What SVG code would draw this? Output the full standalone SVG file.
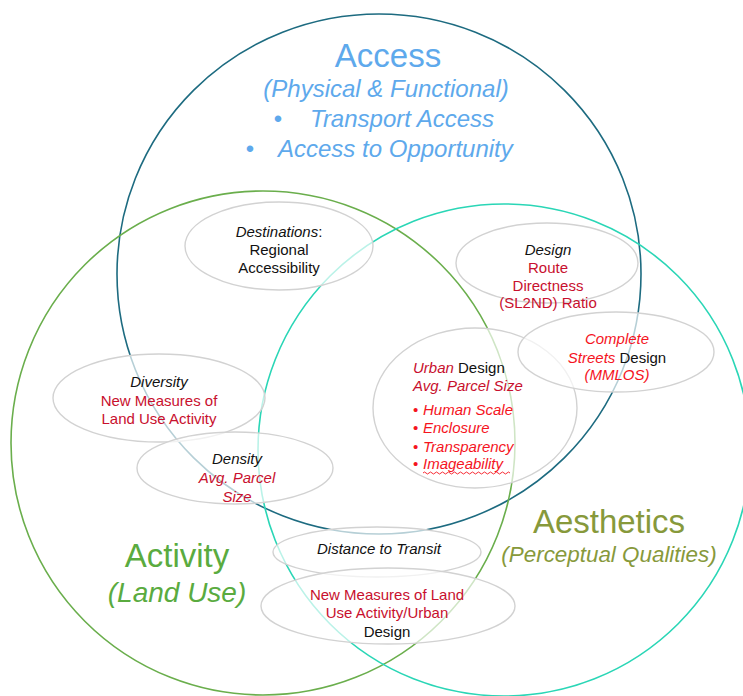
<svg xmlns="http://www.w3.org/2000/svg" width="743" height="696" viewBox="0 0 743 696">
<style>
.circ{fill:none;stroke-width:1.6}
.ell{fill:#fff;fill-opacity:0.68;stroke:#d2d2d2;stroke-width:1.4}
text{font-family:"Liberation Sans",Arial,sans-serif}
.s{font-size:15px;text-anchor:middle}
.i{font-style:italic}
.k{fill:#111}
.dr{fill:#c8102e}
.br{fill:#f5141e}
.blue{fill:#5ea9ec}
.grn{fill:#5aab3f}
.olv{fill:#87993b}
</style>
<rect width="743" height="696" fill="#fff"/>
<g id="access-circle"><ellipse class="circ" cx="379" cy="274" rx="262" ry="260" stroke="#1d6b80"/></g>
<g id="activity-circle"><circle class="circ" cx="263" cy="443" r="252" stroke="#6aae4c"/></g>
<g id="aesthetics-circle"><circle class="circ" cx="504" cy="450" r="246" stroke="#2ad6b6"/></g>
<g id="connectors"></g>

<g id="access-title">
<text x="388" y="67" text-anchor="middle" font-size="33" class="blue">Access</text>
<text x="386" y="97" text-anchor="middle" font-size="24" class="blue i">(Physical &amp; Functional)</text>
<text x="278" y="127" text-anchor="middle" font-size="24" class="blue">•</text>
<text x="310" y="127" font-size="24" class="blue i">Transport Access</text>
<text x="250" y="157" text-anchor="middle" font-size="24" class="blue">•</text>
<text x="278" y="157" font-size="24" class="blue i">Access to Opportunity</text>
</g>

<g id="activity-title">
<text x="177" y="567" text-anchor="middle" font-size="33" class="grn">Activity</text>
<text x="177" y="602" text-anchor="middle" font-size="28" class="grn i">(Land Use)</text>
</g>

<g id="aesthetics-title">
<text x="609" y="533" text-anchor="middle" font-size="33" class="olv">Aesthetics</text>
<text x="609" y="562" text-anchor="middle" font-size="22.4" class="olv i">(Perceptual Qualities)</text>
</g>

<g id="destinations">
<ellipse class="ell" cx="279" cy="246" rx="94" ry="44"/>
<text class="s k" x="279" y="237"><tspan class="i">Destinations</tspan>:</text>
<text class="s k" x="279" y="255">Regional</text>
<text class="s k" x="279" y="273">Accessibility</text>
</g>

<g id="design-route">
<ellipse class="ell" cx="547" cy="263" rx="91" ry="40"/>
<text class="s k i" x="548" y="255">Design</text>
<text class="s dr" x="548" y="273">Route</text>
<text class="s dr" x="548" y="291">Directness</text>
<text class="s dr" x="548" y="308">(SL2ND) Ratio</text>
</g>

<g id="diversity">
<ellipse class="ell" cx="159" cy="398" rx="106" ry="44"/>
<text class="s k i" x="159" y="387">Diversity</text>
<text class="s dr" x="159" y="406">New Measures of</text>
<text class="s dr" x="159" y="424">Land Use Activity</text>
</g>

<g id="density">
<ellipse class="ell" cx="235" cy="468" rx="98" ry="36"/>
<text class="s k i" x="237" y="464">Density</text>
<text class="s dr i" x="237" y="483">Avg. Parcel</text>
<text class="s dr i" x="237" y="502">Size</text>
</g>

<g id="urban-design">
<ellipse class="ell" cx="475" cy="408" rx="102" ry="80"/>
<text font-size="15" x="413" y="373"><tspan class="dr i">Urban</tspan><tspan class="k"> Design</tspan></text>
<text font-size="15" x="413" y="391" class="dr i">Avg. Parcel Size</text>
<g font-size="15" class="br">
<text x="413" y="415">•</text><text x="423" y="415" class="i">Human Scale</text>
<text x="413" y="433">•</text><text x="423" y="433" class="i">Enclosure</text>
<text x="413" y="452">•</text><text x="423" y="452" class="i">Transparency</text>
<text x="413" y="469">•</text><text x="423" y="469" class="i">Imageability</text>
</g>
<path d="M423 473 q1.5 -2 3 0 t3 0 t3 0 t3 0 t3 0 t3 0 t3 0 t3 0 t3 0 t3 0 t3 0 t3 0 t3 0 t3 0 t3 0 t3 0 t3 0 t3 0 t3 0 t3 0 t3 0 t3 0 t3 0 t3 0 t3 0 t3 0 t3 0 t3 0 t3 0" fill="none" stroke="#f5141e" stroke-width="0.9"/>
</g>

<g id="complete-streets">
<ellipse class="ell" cx="616" cy="352" rx="98" ry="40"/>
<text class="s br i" x="617" y="344">Complete</text>
<text class="s" x="617" y="363"><tspan class="br i">Streets</tspan><tspan class="k"> Design</tspan></text>
<text class="s br i" x="617" y="380">(MMLOS)</text>
</g>

<g id="distance-transit">
<ellipse class="ell" cx="377" cy="552" rx="104" ry="25"/>
<text class="s k i" x="379" y="554">Distance to Transit</text>
</g>

<g id="new-measures">
<ellipse class="ell" cx="388" cy="606" rx="127" ry="38"/>
<text class="s dr" x="387" y="600">New Measures of Land</text>
<text class="s dr" x="387" y="618">Use Activity/Urban</text>
<text class="s k" x="387" y="637">Design</text>
</g>
</svg>
